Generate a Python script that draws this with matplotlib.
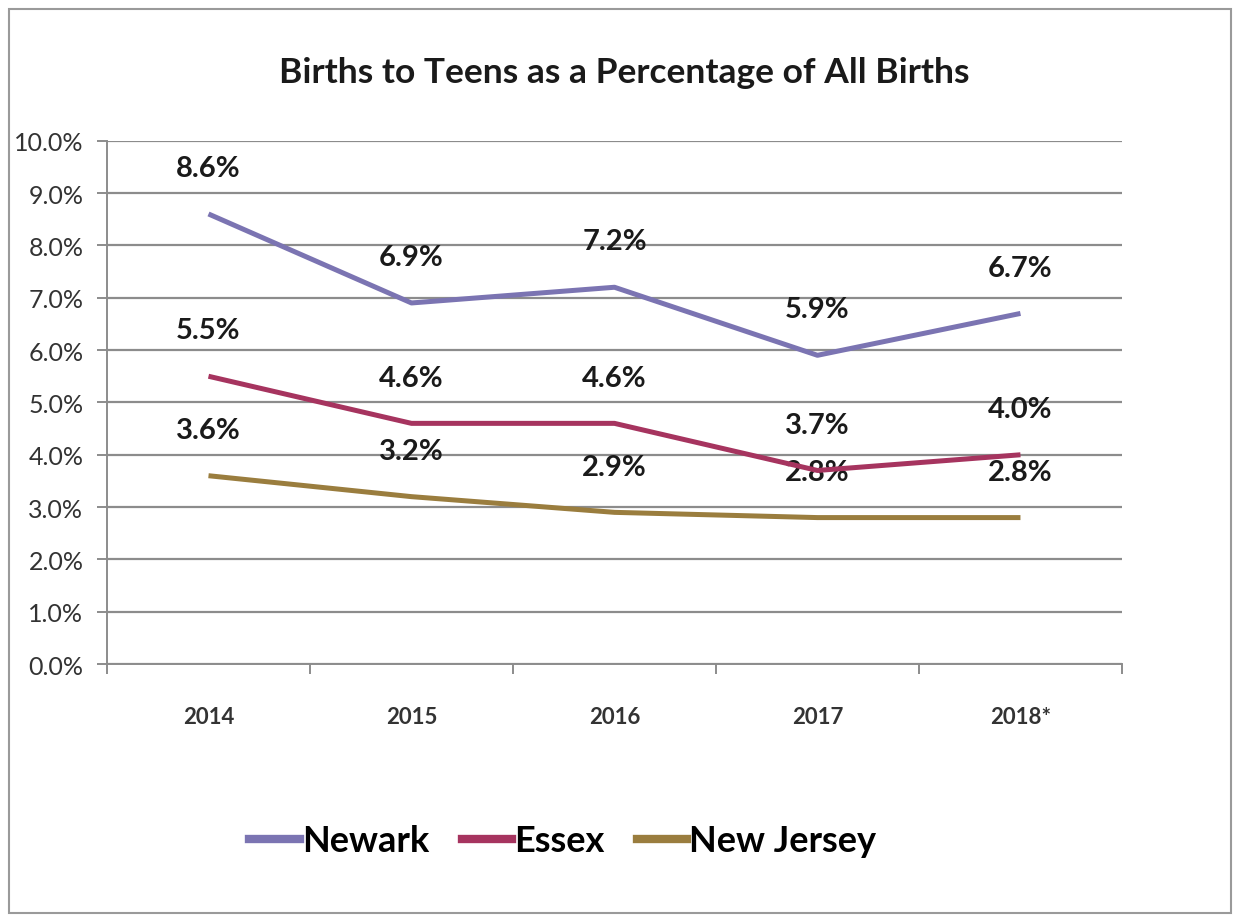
import matplotlib
matplotlib.use('Agg')
import matplotlib.pyplot as plt
from matplotlib.lines import Line2D
from matplotlib.patches import Rectangle
import numpy as np

years = ['2014', '2015', '2016', '2017', '2018*']
newark = [8.6, 6.9, 7.2, 5.9, 6.7]
essex = [5.5, 4.6, 4.6, 3.7, 4.0]
new_jersey = [3.6, 3.2, 2.9, 2.8, 2.8]
series_names = ['Newark', 'Essex', 'New Jersey']
y_ticks = [0, 1, 2, 3, 4, 5, 6, 7, 8, 9, 10]

colors = ['#7b74b2', '#a6345f', '#9a7d3e']
fam = ['Lato', 'DejaVu Sans']

fig = plt.figure(figsize=(12.37, 9.2), dpi=100)
fig.patches.append(Rectangle((0.007, 0.006), 0.988, 0.983, transform=fig.transFigure,
                             fill=False, edgecolor='#9a9a9a', linewidth=1.5))
ax = fig.add_axes([0.0865, 0.277, 0.8205, 0.569])

x = np.arange(len(years))
for vals, name, c in zip([newark, essex, new_jersey], series_names, colors):
    ax.plot(x, vals, color=c, linewidth=3.6, label=name, zorder=3,
            solid_capstyle='butt')
    for xi, v in zip(x, vals):
        ax.annotate(f'{v:.1f}%', (xi, v), xytext=(0, 33), textcoords='offset points',
                    ha='center', va='center', fontsize=21, fontweight='bold',
                    family=fam, color='#1a1a1a', zorder=2)

ax.set_xlim(-0.5, len(years) - 0.5)
ax.set_ylim(0, 10)
ax.set_yticks(y_ticks)
ax.set_yticklabels([f'{t:.1f}%' for t in y_ticks], family=fam, fontsize=18,
                   color='#333333')
ax.yaxis.grid(True, color='#8c8c8c', linewidth=1.6)
ax.set_axisbelow(True)

ax.set_xticks(np.arange(-0.5, len(years)), labels=[])
ax.set_xticks(x, minor=True)
ax.set_xticklabels(years, minor=True, family=fam, fontsize=16, fontweight='bold',
                   color='#333333')
ax.tick_params(axis='x', which='major', length=7, color='#8c8c8c', width=1.4)
ax.tick_params(axis='x', which='minor', length=0, pad=30)
ax.tick_params(axis='y', length=7, color='#8c8c8c', width=1.4, pad=10)

for s in ['top', 'right']:
    ax.spines[s].set_visible(False)
for s in ['left', 'bottom']:
    ax.spines[s].set_color('#8c8c8c')
    ax.spines[s].set_linewidth(1.4)

fig.text(0.505, 0.921, 'Births to Teens as a Percentage of All Births',
         ha='center', va='center', fontsize=25.5, fontweight='bold', family=fam,
         color='#1a1a1a')

handles = [Line2D([], [], color=c, linewidth=6) for c in colors]
fig.legend(handles, series_names, loc='center', bbox_to_anchor=(0.455, 0.085),
           ncol=3, frameon=False, handlelength=1.4, handletextpad=0.05,
           columnspacing=0.9, prop={'family': fam, 'size': 26, 'weight': 'bold'})

fig.savefig('out.png', dpi=100)
